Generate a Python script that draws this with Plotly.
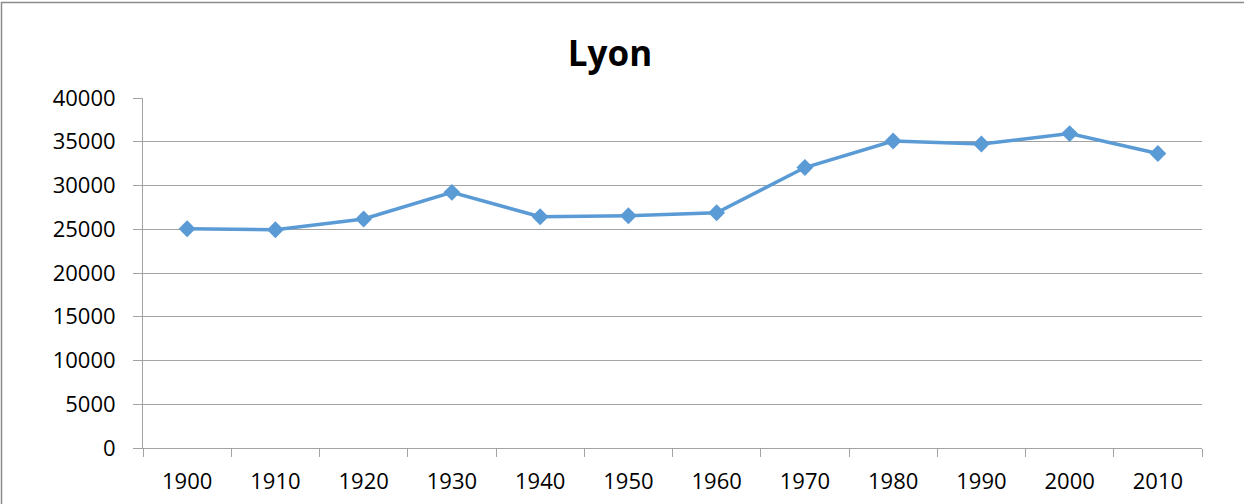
import plotly.graph_objects as go

years = ["1900", "1910", "1920", "1930", "1940", "1950", "1960", "1970", "1980", "1990", "2000", "2010"]
population = [25050, 24950, 26170, 29220, 26430, 26550, 26890, 32050, 35090, 34750, 35930, 33650]
y_ticks = [0, 5000, 10000, 15000, 20000, 25000, 30000, 35000, 40000]

W, H = 1244, 504
ml, mr, mt, mb = 143, 42, 98, 56
pw, ph = W - ml - mr, H - mt - mb

FONT = "Open Sans"
GRID = "#a3a3a3"

fig = go.Figure()
fig.add_trace(go.Scatter(
    x=years, y=population, mode="lines+markers",
    line=dict(color="#5b9bd5", width=3.5),
    marker=dict(symbol="diamond", size=13, color="#5b9bd5"),
    showlegend=False, cliponaxis=False,
))

fig.update_layout(
    width=W, height=H,
    margin=dict(l=ml, r=mr, t=mt, b=mb, pad=0, autoexpand=False),
    paper_bgcolor="white", plot_bgcolor="white",
    title=dict(text="<b>Lyon</b>", x=610 / W, xanchor="center", y=1 - 54 / H, yanchor="middle",
               font=dict(family=FONT, size=35, color="black")),
    font=dict(family=FONT, size=22, color="black"),
    xaxis=dict(
        type="category", range=[-0.5, 11.5], tickson="boundaries", automargin=False,
        ticks="outside", ticklen=8, tickcolor=GRID, tickwidth=1,
        showline=True, linecolor=GRID, linewidth=1,
        showgrid=False, ticklabelstandoff=14,
        tickfont=dict(family=FONT, size=22),
    ),
    yaxis=dict(
        range=[0, 40000], tickvals=y_ticks, ticktext=[str(v) for v in y_ticks], automargin=False,
        ticks="outside", ticklen=9, tickcolor=GRID, tickwidth=1,
        showline=True, linecolor=GRID, linewidth=1,
        showgrid=True, gridcolor=GRID, gridwidth=1, zeroline=False,
        ticklabelstandoff=13,
        tickfont=dict(family=FONT, size=22),
    ),
    shapes=[dict(
        type="rect", xref="paper", yref="paper",
        x0=(1.5 - ml) / pw, x1=(W + 20 - ml) / pw,
        y0=-(H + 20 - mt - ph) / ph, y1=1 + (mt - 2.5) / ph,
        line=dict(color="#8c8c8c", width=1.5), fillcolor="rgba(0,0,0,0)", layer="below",
    )],
)

fig.write_html("out.html", config={"displayModeBar": False},
               post_script="document.body.style.margin='0';document.body.style.overflow='hidden';")
